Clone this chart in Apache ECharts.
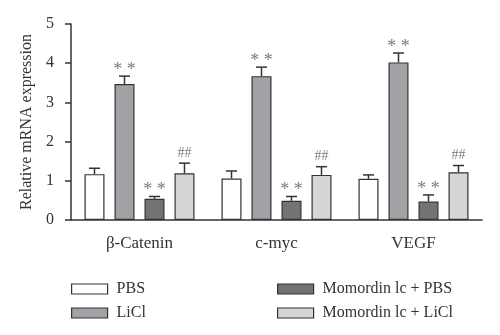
<!DOCTYPE html>
<html><head><meta charset="utf-8">
<script src="https://cdn.jsdelivr.net/npm/echarts@6/dist/echarts.min.js"></script>
<style>html,body{margin:0;padding:0;background:#fff}#c{width:500px;height:335px}</style>
</head><body><div id="c"></div>
<script>
const categories = ['β-Catenin', 'c-myc', 'VEGF'];
const seriesNames = ['PBS', 'LiCl', 'Momordin lc + PBS', 'Momordin lc + LiCl'];
const pbsMean = [1.17, 1.06, 1.05];
const pbsErrTop = [1.32, 1.25, 1.15];
const liclMean = [3.47, 3.67, 4.02];
const liclErrTop = [3.67, 3.90, 4.26];
const momPbsMean = [0.54, 0.49, 0.47];
const momPbsErrTop = [0.60, 0.60, 0.64];
const momLiclMean = [1.19, 1.15, 1.22];
const momLiclErrTop = [1.45, 1.36, 1.39];
const pbsSig = ['', '', ''];
const liclSig = ['* *', '* *', '* *'];
const momPbsSig = ['* *', '* *', '* *'];
const momLiclSig = ['##', '##', '##'];
const yTicks = [0, 1, 2, 3, 4, 5];

const means = [pbsMean, liclMean, momPbsMean, momLiclMean];
const errTops = [pbsErrTop, liclErrTop, momPbsErrTop, momLiclErrTop];
const sigs = [pbsSig, liclSig, momPbsSig, momLiclSig];
const colors = ['#ffffff', '#a2a2a6', '#737373', '#d6d6d6'];
const FONT = "'Liberation Serif', 'Times New Roman', serif";
const BAR_W = 20, GAP = 10;
const offsets = [-1.5, -0.5, 0.5, 1.5].map(k => k * (BAR_W + GAP));

const series = [];
seriesNames.forEach((name, i) => {
  series.push({
    name: name, type: 'bar', barWidth: BAR_W, barGap: (GAP / BAR_W * 100) + '%',
    data: means[i],
    itemStyle: { color: colors[i], borderColor: '#333', borderWidth: 1.2 },
    z: 2
  });
});
seriesNames.forEach((name, i) => {
  series.push({
    name: name + ' err', type: 'custom', z: 5,
    data: categories.map((c, j) => [j, means[i][j], errTops[i][j], sigs[i][j]]),
    encode: { x: 0, y: 2 },
    renderItem: function (params, api) {
      const b = api.coord([api.value(0), api.value(1)]);
      const t = api.coord([api.value(0), api.value(2)]);
      const x = b[0] + offsets[i];
      const sig = sigs[i][params.dataIndex];
      const children = [
        { type: 'line', shape: { x1: x, y1: b[1], x2: x, y2: t[1] }, style: { stroke: '#333', lineWidth: 1.5 } },
        { type: 'line', shape: { x1: x - 5.5, y1: t[1], x2: x + 5.5, y2: t[1] }, style: { stroke: '#333', lineWidth: 1.5 } }
      ];
      if (sig) {
        children.push({ type: 'text', style: { text: sig, x: x, y: t[1] - (sig === '##' ? 3 : -3), align: 'center', verticalAlign: 'bottom', fill: '#7a7a7a', font: (sig === '##' ? '14px ' : '18px ') + FONT } });
      }
      return { type: 'group', children: children };
    }
  });
});

const legendText = { fontSize: 16, color: '#333', fontFamily: FONT, padding: [0, 0, 0, 4] };
const chart = echarts.init(document.getElementById('c'), null, { renderer: 'canvas' });
chart.setOption({
  animation: false,
  textStyle: { fontFamily: FONT },
  grid: { left: 71, right: 18, top: 24, bottom: 115 },
  xAxis: {
    type: 'category', data: categories,
    axisLine: { lineStyle: { color: '#333', width: 1.5 } },
    axisTick: { alignWithLabel: true, length: 6, lineStyle: { color: '#333', width: 1.5 } },
    axisLabel: { color: '#333', fontSize: 17, fontFamily: FONT, margin: 15 }
  },
  yAxis: {
    type: 'value', min: 0, max: 5, interval: 1,
    name: 'Relative mRNA expression', nameLocation: 'middle', nameGap: 36,
    nameTextStyle: { color: '#333', fontSize: 16, fontFamily: FONT },
    axisLine: { show: true, lineStyle: { color: '#333', width: 1.5 } },
    axisTick: { show: true, length: 6, lineStyle: { color: '#333', width: 1.5 } },
    axisLabel: { color: '#333', fontSize: 16, fontFamily: FONT, margin: 17, formatter: v => yTicks.includes(v) ? String(v) : '' },
    splitLine: { show: false }
  },
  legend: [
    { data: seriesNames.slice(0, 2), orient: 'vertical', left: 71, top: 281, padding: 0, icon: 'rect',
      itemWidth: 36, itemHeight: 10, itemGap: 8, itemStyle: { borderColor: '#333', borderWidth: 1.2 }, textStyle: legendText },
    { data: seriesNames.slice(2), orient: 'vertical', left: 277, top: 281, padding: 0, icon: 'rect',
      itemWidth: 36, itemHeight: 10, itemGap: 8, itemStyle: { borderColor: '#333', borderWidth: 1.2 }, textStyle: legendText }
  ],
  series: series
});
</script></body></html>
